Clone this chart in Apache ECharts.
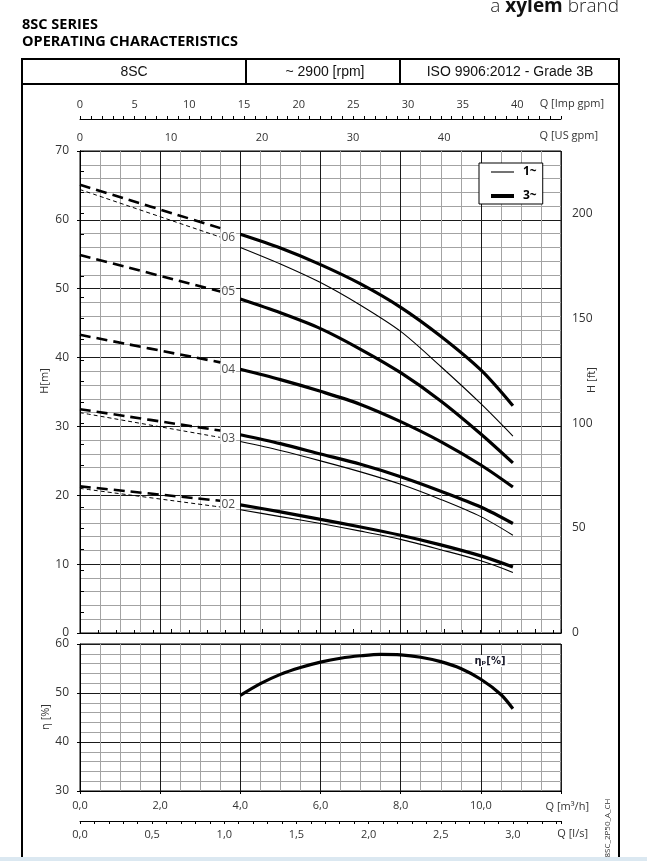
<!DOCTYPE html>
<html><head><meta charset="utf-8">
<script src="https://cdn.jsdelivr.net/npm/echarts@6/dist/echarts.min.js"></script>
<style>html,body{margin:0;padding:0;background:#fff}#c{width:647px;height:861px}</style>
</head><body><div id="c"></div>
<script>
// ---------- data (Q in m3/h, H in m) ----------
const qSolid = [4.0, 5.0, 6.0, 7.0, 8.0, 9.0, 10.0, 10.8];
const h06_3 = [57.9, 55.9, 53.5, 50.7, 47.3, 43.1, 38.2, 33.0];
const h06_1 = [56.0, 53.6, 50.9, 47.6, 43.8, 38.7, 33.3, 28.6];
const h05_3 = [48.5, 46.5, 44.2, 41.2, 37.8, 33.7, 28.9, 24.7];
const h04_3 = [38.3, 36.8, 35.1, 33.2, 30.7, 27.8, 24.4, 21.2];
const h03_3 = [28.8, 27.5, 26.0, 24.5, 22.7, 20.6, 18.3, 15.9];
const h03_1 = [27.8, 26.5, 25.0, 23.4, 21.6, 19.4, 16.9, 14.2];
const h02_3 = [18.6, 17.6, 16.5, 15.4, 14.2, 12.8, 11.2, 9.6];
const h02_1 = [17.9, 16.9, 15.9, 14.8, 13.6, 12.1, 10.5, 8.8];

const qDash = [0, 3.5];
const d06_3 = [65.1, 58.8];
const d06_1 = [64.4, 57.5];
const d05_3 = [54.9, 49.6];
const d04_3 = [43.3, 39.3];
const d03_3 = [32.5, 29.4];
const d03_1 = [32.0, 28.4];
const d02_3 = [21.3, 19.2];
const d02_1 = [21.0, 18.3];

const stageNames = ['06', '05', '04', '03', '02'];
const stageQ = 3.70;
const stageH = [57.4, 49.6, 38.3, 28.3, 18.6];

const qEta = [4.0, 4.5, 5.0, 5.5, 6.0, 6.5, 7.0, 7.5, 8.0, 8.5, 9.0, 9.5, 10.0, 10.5, 10.8];
const eta  = [49.5, 51.9, 53.8, 55.2, 56.3, 57.1, 57.6, 57.9, 57.8, 57.3, 56.4, 55.0, 52.8, 49.7, 46.8];

const legendNames = ['1~', '3~'];

// unit conversions
const US_GPM = 4.40287, IMP_GPM = 3.66615, LPS = 1 / 3.6, FT = 3.28084;
const Q_MAX = 12, H_MAX = 70;

// ---------- helpers ----------
const FONT = 'Open Sans';
const pair = (xs, ys) => xs.map((x, i) => [x, ys[i]]);
function curve(name, xs, ys, width, type, grid) {
  return {
    type: 'line', name: name, xAxisIndex: grid ? 3 : 0, yAxisIndex: grid ? 2 : 0,
    data: pair(xs, ys), smooth: 0.3, symbol: 'none', showSymbol: false,
    silent: true, z: 5,
    itemStyle: { color: '#000' },
    lineStyle: { color: '#000', width: width, type: type || 'solid', cap: 'butt' }
  };
}
const TH = 3.2, TN = 1.1;
const dashThick = [11, 6], dashThin = [4, 3];

const series = [
  curve('3~', qSolid, h06_3, TH), curve('1~', qSolid, h06_1, TN),
  curve('3~', qSolid, h05_3, TH),
  curve('3~', qSolid, h04_3, TH),
  curve('3~', qSolid, h03_3, TH), curve('1~', qSolid, h03_1, TN),
  curve('3~', qSolid, h02_3, TH), curve('1~', qSolid, h02_1, TN),
  curve('ext3', qDash, d06_3, 2.6, dashThick), curve('ext1', qDash, d06_1, 1, dashThin),
  curve('ext3', qDash, d05_3, 2.6, dashThick),
  curve('ext3', qDash, d04_3, 2.6, dashThick),
  curve('ext3', qDash, d03_3, 2.6, dashThick), curve('ext1', qDash, d03_1, 1, dashThin),
  curve('ext3', qDash, d02_3, 2.6, dashThick), curve('ext1', qDash, d02_1, 1, dashThin),
  curve('eta', qEta, eta, TH, 'solid', 1),
  {
    type: 'scatter', name: 'stages', xAxisIndex: 0, yAxisIndex: 0, silent: true, z: 10,
    symbolSize: 1, itemStyle: { color: 'rgba(0,0,0,0)' },
    data: stageNames.map((s, i) => [stageQ, stageH[i], s]),
    label: {
      show: true, position: 'inside', formatter: p => p.data[2],
      color: '#1a1a1a', fontFamily: FONT, fontSize: 12, backgroundColor: '#fff', padding: [0, 1]
    }
  }
];

const GRID_MAJOR = { color: '#1a1a1a', width: 1 };
const GRID_MINOR = { color: '#a3a3a3', width: 1 };
const LBL = { fontFamily: FONT, fontSize: 11, color: '#333' };
const AXLINE = { show: true, lineStyle: { color: '#000', width: 1 } };
const fmtComma = d => v => v.toFixed(d).replace('.', ',');
const onlyMult = (m, f, lim) => v => (Math.abs(v / m - Math.round(v / m)) < 1e-6 && (lim === undefined || v <= lim) ? f(v) : '');

const option = {
  animation: false,
  backgroundColor: '#fff',
  grid: [
    { left: 80, top: 151, width: 481, height: 482, show: true, borderColor: '#000', borderWidth: 1, backgroundColor: 'transparent' },
    { left: 80, top: 644, width: 481, height: 147, show: true, borderColor: '#000', borderWidth: 1, backgroundColor: 'transparent' }
  ],
  legend: {
    data: [
      { name: legendNames[0], itemStyle: { opacity: 0 }, lineStyle: { color: '#000', width: 1.1 } },
      { name: legendNames[1], itemStyle: { opacity: 0 }, lineStyle: { color: '#000', width: 4 } }
    ],
    orient: 'vertical', left: 479, top: 163,
    padding: [3, 6, 2, 10], itemWidth: 23, itemHeight: 14, itemGap: 12,
    borderColor: '#000', borderWidth: 1, backgroundColor: '#fff', selectedMode: false,
    textStyle: { fontFamily: FONT, fontSize: 12, fontWeight: 'bold', color: '#000', padding: [0, 0, 0, 4] }
  },
  xAxis: [
    { // 0: main grid Q m3/h (grid lines)
      gridIndex: 0, type: 'value', min: 0, max: Q_MAX, interval: 2, position: 'bottom',
      axisLine: AXLINE, axisTick: { show: false }, axisLabel: { show: false },
      splitLine: { show: true, lineStyle: GRID_MAJOR },
      minorTick: { show: false, splitNumber: 4 }, minorSplitLine: { show: true, lineStyle: GRID_MINOR }
    },
    { // 1: US gpm (top)
      gridIndex: 0, type: 'value', min: 0, max: Q_MAX * US_GPM, interval: 10, position: 'top',
      axisLine: AXLINE, axisTick: { show: true, inside: false, length: 4, lineStyle: { color: '#000' } },
      minorTick: { show: true, splitNumber: 5, length: 3, lineStyle: { color: '#000' } },
      axisLabel: Object.assign({ margin: 8, formatter: onlyMult(10, v => String(v), 45) }, LBL),
      splitLine: { show: false }
    },
    { // 2: Imp gpm (top, offset)
      gridIndex: 0, type: 'value', min: 0, max: Q_MAX * IMP_GPM, interval: 5, position: 'top', offset: 32,
      axisLine: AXLINE, axisTick: { show: true, length: 3, lineStyle: { color: '#000' } },
      minorTick: { show: true, splitNumber: 5, length: 3, lineStyle: { color: '#000' } },
      axisLabel: Object.assign({ margin: 9, formatter: onlyMult(5, v => String(v)) }, LBL),
      splitLine: { show: false }
    },
    { // 3: efficiency grid Q m3/h (bottom, labels)
      gridIndex: 1, type: 'value', min: 0, max: Q_MAX, interval: 2, position: 'bottom',
      axisLine: AXLINE, axisTick: { show: true, length: 3, lineStyle: { color: '#000' } },
      axisLabel: Object.assign({ margin: 9, formatter: v => (v >= Q_MAX ? '' : fmtComma(1)(v)) }, LBL),
      splitLine: { show: true, lineStyle: GRID_MAJOR },
      minorTick: { show: false, splitNumber: 4 }, minorSplitLine: { show: true, lineStyle: GRID_MINOR }
    },
    { // 4: l/s (bottom, offset)
      gridIndex: 1, type: 'value', min: 0, max: Q_MAX * LPS, interval: 0.5, position: 'bottom', offset: 30,
      axisLine: AXLINE, axisTick: { show: true, length: 3, lineStyle: { color: '#000' } },
      minorTick: { show: true, splitNumber: 5, length: 3, lineStyle: { color: '#000' } },
      axisLabel: Object.assign({ margin: 8, formatter: onlyMult(0.5, fmtComma(1)) }, LBL),
      splitLine: { show: false }
    }
  ],
  yAxis: [
    { // 0: H m
      gridIndex: 0, type: 'value', min: 0, max: H_MAX, interval: 10, position: 'left',
      axisLine: AXLINE, axisTick: { show: true, length: 3, lineStyle: { color: '#000' } },
      axisLabel: Object.assign({ margin: 11 }, LBL, { fontSize: 12 }),
      splitLine: { show: true, lineStyle: GRID_MAJOR },
      minorTick: { show: false, splitNumber: 5 }, minorSplitLine: { show: true, lineStyle: GRID_MINOR }
    },
    { // 1: H ft
      gridIndex: 0, type: 'value', min: 0, max: H_MAX * FT, interval: 50, position: 'right',
      axisLine: AXLINE, axisTick: { show: true, length: 4, lineStyle: { color: '#000' } },
      minorTick: { show: true, splitNumber: 5, length: 4, lineStyle: { color: '#000' } },
      axisLabel: Object.assign({ margin: 11, formatter: onlyMult(50, v => String(v)) }, LBL, { fontSize: 12 }),
      splitLine: { show: false }
    },
    { // 2: efficiency %
      gridIndex: 1, type: 'value', min: 30, max: 60, interval: 10, position: 'left',
      axisLine: AXLINE, axisTick: { show: true, length: 3, lineStyle: { color: '#000' } },
      axisLabel: Object.assign({ margin: 11 }, LBL, { fontSize: 12 }),
      splitLine: { show: true, lineStyle: GRID_MAJOR },
      minorTick: { show: false, splitNumber: 5 }, minorSplitLine: { show: true, lineStyle: GRID_MINOR }
    }
  ],
  series: series,
  graphic: [
    // outer frame and header table
    { type: 'rect', z: 1, shape: { x: 22, y: 59, width: 597, height: 820 }, style: { fill: 'none', stroke: '#000', lineWidth: 2 } },
    { type: 'line', z: 1, shape: { x1: 22, y1: 84, x2: 619, y2: 84 }, style: { stroke: '#000', lineWidth: 2 } },
    { type: 'line', z: 1, shape: { x1: 246, y1: 59, x2: 246, y2: 84 }, style: { stroke: '#000', lineWidth: 2 } },
    { type: 'line', z: 1, shape: { x1: 400, y1: 59, x2: 400, y2: 84 }, style: { stroke: '#000', lineWidth: 2 } },
    { type: 'text', x: 134, y: 72, style: { text: '8SC', font: '14px "Liberation Sans"', fill: '#111', align: 'center', verticalAlign: 'middle' } },
    { type: 'text', x: 325, y: 72, style: { text: '~ 2900 [rpm]', font: '14px "Liberation Sans"', fill: '#111', align: 'center', verticalAlign: 'middle' } },
    { type: 'text', x: 510, y: 72, style: { text: 'ISO 9906:2012 - Grade 3B', font: '14px "Liberation Sans"', fill: '#111', align: 'center', verticalAlign: 'middle' } },
    // titles
    { type: 'text', x: 22, y: 25, style: { text: '8SC SERIES', font: 'bold 14.5px "Open Sans"', fill: '#000', align: 'left', verticalAlign: 'middle' } },
    { type: 'text', x: 22, y: 42, style: { text: 'OPERATING CHARACTERISTICS', font: 'bold 14.5px "Open Sans"', fill: '#000', align: 'left', verticalAlign: 'middle' } },
    { type: 'text', x: 619, y: 7, style: {
        text: '{l|a }{b|xylem}{l| brand}', align: 'right', verticalAlign: 'middle',
        rich: { l: { font: '300 19px "Open Sans"', fill: '#222' }, b: { font: 'bold 19px "Open Sans"', fill: '#111' } } } },
    // axis names
    { type: 'text', x: 45, y: 381, rotation: Math.PI / 2, style: { text: 'H[m]', font: '11px "Open Sans"', fill: '#333', align: 'center', verticalAlign: 'middle' } },
    { type: 'text', x: 592, y: 380, rotation: Math.PI / 2, style: { text: 'H [ft]', font: '11px "Open Sans"', fill: '#333', align: 'center', verticalAlign: 'middle' } },
    { type: 'text', x: 46, y: 717, rotation: Math.PI / 2, style: { text: 'η [%]', font: '11px "Open Sans"', fill: '#333', align: 'center', verticalAlign: 'middle' } },
    { type: 'text', x: 604, y: 104, style: { text: 'Q [Imp gpm]', font: '11px "Open Sans"', fill: '#333', align: 'right', verticalAlign: 'middle' } },
    { type: 'text', x: 598, y: 136, style: { text: 'Q [US gpm]', font: '11px "Open Sans"', fill: '#333', align: 'right', verticalAlign: 'middle' } },
    { type: 'text', x: 589, y: 807, style: { text: 'Q [m³/h]', font: '11px "Open Sans"', fill: '#333', align: 'right', verticalAlign: 'middle' } },
    { type: 'text', x: 588, y: 834, style: { text: 'Q [l/s]', font: '11px "Open Sans"', fill: '#333', align: 'right', verticalAlign: 'middle' } },
    { type: 'text', x: 608, y: 828, rotation: Math.PI / 2, style: { text: '8SC_2P50_A_CH', font: '8px "Open Sans"', fill: '#333', align: 'center', verticalAlign: 'middle' } },
    { type: 'text', z: 20, x: 490, y: 661, style: { text: 'ηₚ[%]', font: 'bold 10px "DejaVu Sans"', fill: '#1a1a2a', align: 'center', verticalAlign: 'middle', backgroundColor: '#fff', padding: [1, 2] } },
    // bottom band
    { type: 'rect', z: 30, shape: { x: 0, y: 857, width: 647, height: 4 }, style: { fill: '#dbe8f1' } }
  ]
};

const chart = echarts.init(document.getElementById('c'), null, { renderer: 'canvas' });
chart.setOption(option);
</script>
</body></html>
